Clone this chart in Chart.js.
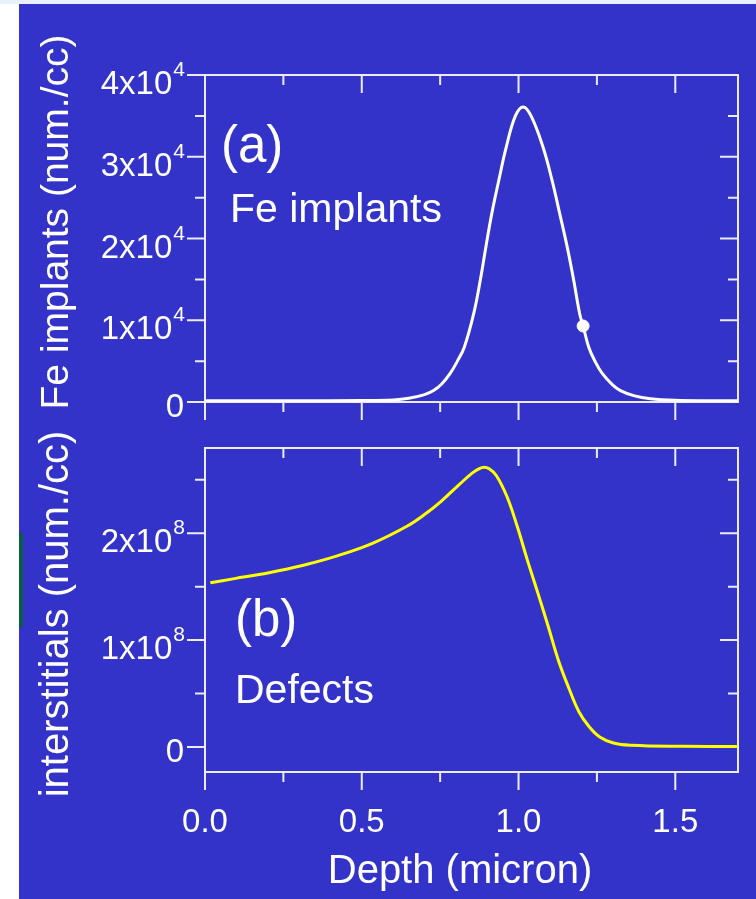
<!DOCTYPE html>
<html>
<head>
<meta charset="utf-8">
<script src="https://cdn.jsdelivr.net/npm/chart.js@4.4.1/dist/chart.umd.min.js"></script>
<style>
  body { margin: 0; background: #ffffff; width: 756px; height: 899px; overflow: hidden; position: relative; }
  #topband { position: absolute; left: 0; top: 0; width: 756px; height: 4px; background: #e9f0fd; }
  #panel { position: absolute; left: 19px; top: 4px; width: 737px; height: 895px; background: #3333c9; }
  #mark { position: absolute; left: 19px; top: 533px; width: 4px; height: 94px; background: #0a5c48; }
  canvas { position: absolute; left: 0; }
  #top { top: 0; }
  #bottom { top: 400px; }
</style>
</head>
<body>
<div id="topband"></div>
<div id="panel"></div>
<div id="mark"></div>
<canvas id="top" width="756" height="440"></canvas>
<canvas id="bottom" width="756" height="499"></canvas>
<script>
  /// data ///
  // (a) Fe implants, depth in micron, concentration in num./cc
  const feDepth = [0.00, 0.30, 0.50, 0.60, 0.65, 0.70, 0.729, 0.755, 0.782, 0.805, 0.827, 0.857, 0.878, 0.896, 0.915,
                   0.937, 0.961, 0.99, 1.015, 1.04, 1.078, 1.107, 1.131, 1.155, 1.176, 1.195, 1.206, 1.224, 1.245,
                   1.267, 1.30, 1.325, 1.37, 1.421, 1.50, 1.60, 1.70]
  const feConc = [150, 150, 180, 250, 450, 900, 1400, 2200, 3500, 5000, 6700, 10800, 14900, 19000, 23100,
                  27100, 31200, 35000, 36100, 35000, 31200, 27100, 23100, 19000, 14900, 10800, 9300, 6700, 4900,
                  3500, 2100, 1400, 750, 400, 200, 150, 150]
  const markDepth = [1.206]
  const markConc = [9300]

  // (b) defects (interstitials)
  const defDepth = [0.017, 0.094, 0.204, 0.314, 0.424, 0.534, 0.644, 0.699, 0.754, 0.809, 0.853, 0.875, 0.89, 0.905,
                    0.929, 0.963, 0.996, 1.028, 1.062, 1.095, 1.127, 1.161, 1.193, 1.226, 1.259, 1.303, 1.358,
                    1.523, 1.70]
  const defConc = [1.537e8, 1.575e8, 1.630e8, 1.700e8, 1.790e8, 1.905e8, 2.065e8, 2.172e8, 2.301e8, 2.450e8, 2.564e8,
                   2.604e8, 2.617e8, 2.605e8, 2.540e8, 2.343e8, 2.062e8, 1.750e8, 1.437e8, 1.125e8, 0.812e8, 0.547e8,
                   0.328e8, 0.187e8, 0.094e8, 0.037e8, 0.016e8, 0.006e8, 0.005e8]

  // ticks
  const xMajor = [0, 0.5, 1.0, 1.5]
  const xMinor = [0.25, 0.75, 1.25]
  const xTickText = ['0.0', '0.5', '1.0', '1.5']
  const feMajor = [0, 1e4, 2e4, 3e4, 4e4]
  const feMinor = [0.5e4, 1.5e4, 2.5e4, 3.5e4]
  const feTickBase = ['0', '1x10', '2x10', '3x10', '4x10']
  const feTickExp = ['', '4', '4', '4', '4']
  const defMajor = [0, 1e8, 2e8]
  const defMinor = [0.5e8, 1.5e8, 2.5e8]
  const defTickBase = ['0', '1x10', '2x10']
  const defTickExp = ['', '8', '8']

  const FONT = '"Liberation Sans", Arial, sans-serif'
  const WHITE = '#ffffff'
  const FRAME = '#ececf8'

  function pts(xs, ys) { return xs.map((v, i) => ({ x: v, y: ys[i] })) }

  //// frame and ticks under the curves, texts over them ////
  const framePlugin = {
    id: 'frame',
    beforeDatasetsDraw(chart, args, o) {
      const ctx = chart.ctx
      const a = chart.chartArea
      const xs = chart.scales.x, ys = chart.scales.y
      ctx.save()
      ctx.strokeStyle = FRAME
      ctx.lineWidth = 2
      ctx.strokeRect(a.left, a.top, a.right - a.left, a.bottom - a.top)
      ctx.beginPath()
      xMajor.forEach(v => {
        const p = xs.getPixelForValue(v)
        ctx.moveTo(p, a.bottom); ctx.lineTo(p, a.bottom + 18)
        ctx.moveTo(p, a.top); ctx.lineTo(p, a.top + 18)
      })
      xMinor.forEach(v => {
        const p = xs.getPixelForValue(v)
        ctx.moveTo(p, a.bottom); ctx.lineTo(p, a.bottom + 10)
        ctx.moveTo(p, a.top); ctx.lineTo(p, a.top + 10)
      })
      o.yMajor.forEach(v => {
        const p = ys.getPixelForValue(v)
        ctx.moveTo(a.left - 18, p); ctx.lineTo(a.left, p)
        ctx.moveTo(a.right - 18, p); ctx.lineTo(a.right, p)
      })
      o.yMinor.forEach(v => {
        const p = ys.getPixelForValue(v)
        ctx.moveTo(a.left - 10, p); ctx.lineTo(a.left, p)
        ctx.moveTo(a.right - 10, p); ctx.lineTo(a.right, p)
      })
      ctx.stroke()
      ctx.restore()
    },
    afterDatasetsDraw(chart, args, o) {
      const ctx = chart.ctx
      const xs = chart.scales.x, ys = chart.scales.y
      ctx.save()
      // y tick labels with exponent
      ctx.fillStyle = WHITE
      ctx.textAlign = 'right'
      ctx.textBaseline = 'alphabetic'
      o.yMajor.forEach((v, i) => {
        const p = ys.getPixelForValue(v)
        if (o.yExp[i]) {
          ctx.font = '21px ' + FONT
          const w = ctx.measureText(o.yExp[i]).width
          ctx.fillText(o.yExp[i], 185, p + 1)
          ctx.font = '33px ' + FONT
          ctx.fillText(o.yBase[i], 185 - w - 1, p + 19)
        } else {
          ctx.font = '33px ' + FONT
          ctx.fillText(o.yBase[i], 184, p + 15)
        }
      })

      // x tick labels
      if (o.xLabels) {
        ctx.textAlign = 'center'
        ctx.font = '33px ' + FONT
        xMajor.forEach((v, i) => {
          ctx.fillText(xTickText[i], xs.getPixelForValue(v), o.xLabelY)
        })
        ctx.font = '40px ' + FONT
        ctx.fillText('Depth (micron)', 460, o.xTitleY)
      }

      // y title
      ctx.save()
      ctx.translate(57, o.yTitleY)
      ctx.rotate(-Math.PI / 2)
      ctx.textAlign = 'center'
      ctx.textBaseline = 'middle'
      ctx.font = o.yTitleSize + 'px ' + FONT
      ctx.fillText(o.yTitle, 0, 0)
      ctx.restore()

      // panel notes
      ctx.textAlign = 'left'
      ctx.textBaseline = 'alphabetic'
      o.notes.forEach(n => {
        ctx.font = n.size + 'px ' + FONT
        ctx.fillText(n.text, n.x, n.y)
      })
      ctx.restore()
    }
  }

  function makeChart(id, datasets, ymin, ymax, padTop, xHeight, frameOpts) {
    return new Chart(document.getElementById(id), {
      type: 'scatter',
      data: { datasets: datasets },
      options: {
        responsive: false,
        animation: false,
        devicePixelRatio: 1,
        layout: { autoPadding: false, padding: { top: padTop, right: 18, left: 0, bottom: 0 } },
        scales: {
          x: {
            type: 'linear', min: 0, max: 1.7,
            grid: { display: false }, border: { display: false },
            ticks: { display: false },
            afterFit: s => { s.height = xHeight }
          },
          y: {
            type: 'linear', min: ymin, max: ymax,
            grid: { display: false }, border: { display: false },
            ticks: { display: false },
            afterFit: s => { s.width = 205 }
          }
        },
        plugins: { legend: { display: false }, tooltip: { enabled: false }, frame: frameOpts }
      },
      plugins: [framePlugin]
    })
  }

  makeChart('top', [
    {
      data: pts(feDepth, feConc), showLine: true, borderColor: WHITE, borderWidth: 3,
      pointRadius: 0, tension: 0.4
    },
    {
      data: pts(markDepth, markConc), pointRadius: 6, pointBackgroundColor: WHITE,
      pointBorderColor: WHITE, showLine: false
    }
  ], 0, 4e4, 75, 38, {
    yMajor: feMajor, yMinor: feMinor, yBase: feTickBase, yExp: feTickExp,
    yTitle: 'Fe implants (num./cc)', yTitleY: 222, yTitleSize: 39, xLabels: false,
    notes: [
      { text: '(a)', x: 221, y: 162, size: 51 },
      { text: 'Fe implants', x: 230, y: 222, size: 41 }
    ]
  })

  makeChart('bottom', [
    {
      data: pts(defDepth, defConc), showLine: true, borderColor: '#ffff00', borderWidth: 3,
      pointRadius: 0, tension: 0.4
    }
  ], -0.234e8, 2.797e8, 48, 127, {
    yMajor: defMajor, yMinor: defMinor, yBase: defTickBase, yExp: defTickExp,
    yTitle: 'interstitials (num./cc)', yTitleY: 214, yTitleSize: 40, xLabels: true, xLabelY: 432, xTitleY: 483,
    notes: [
      { text: '(b)', x: 235, y: 236, size: 51 },
      { text: 'Defects', x: 235, y: 303, size: 41 }
    ]
  })
</script>
</body>
</html>
